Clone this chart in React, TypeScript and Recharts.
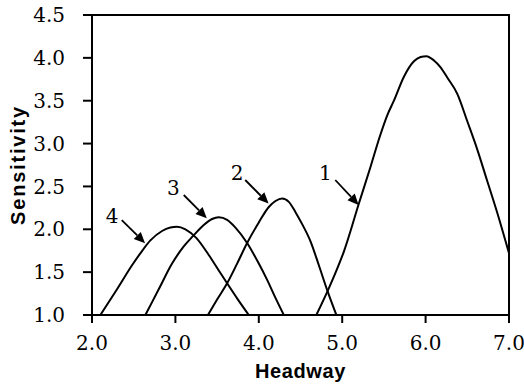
import React from 'react';
import { LineChart, Line, XAxis, YAxis, ReferenceArea, ReferenceLine, ReferenceDot } from 'recharts';

const xTicks = [2, 3, 4, 5, 6, 7];
const yTicks = [1, 1.5, 2, 2.5, 3, 3.5, 4, 4.5];

const curve1X = [4.69, 4.83, 4.94, 5.02, 5.2, 5.34, 5.45, 5.54, 5.62, 5.74, 5.86, 5.94, 6.01, 6.1, 6.18, 6.26, 6.38, 6.5, 6.62, 6.74, 6.86, 7.0];
const curve1Y = [1.0, 1.29, 1.54, 1.74, 2.3, 2.73, 3.08, 3.33, 3.5, 3.78, 3.96, 4.01, 4.02, 3.97, 3.89, 3.77, 3.58, 3.26, 2.93, 2.56, 2.19, 1.72];

const curve2X = [3.39, 3.5, 3.62, 3.74, 3.86, 4.0, 4.12, 4.2, 4.28, 4.36, 4.44, 4.52, 4.62, 4.72, 4.82, 4.93];
const curve2Y = [1.0, 1.18, 1.37, 1.6, 1.84, 2.08, 2.26, 2.33, 2.36, 2.32, 2.2, 2.06, 1.86, 1.58, 1.29, 1.0];

const curve3X = [2.64, 2.8, 2.96, 3.1, 3.21, 3.34, 3.44, 3.52, 3.62, 3.72, 3.86, 4.0, 4.1, 4.2, 4.3];
const curve3Y = [1.0, 1.3, 1.6, 1.8, 1.92, 2.05, 2.12, 2.14, 2.11, 2.02, 1.84, 1.6, 1.41, 1.2, 1.0];

const curve4X = [2.1, 2.3, 2.48, 2.58, 2.7, 2.84, 2.94, 3.02, 3.12, 3.25, 3.4, 3.52, 3.62, 3.75, 3.88];
const curve4Y = [1.0, 1.3, 1.58, 1.72, 1.87, 1.98, 2.02, 2.03, 2.0, 1.9, 1.7, 1.52, 1.37, 1.18, 1.0];

const labelNames = ['1', '2', '3', '4'];
const labelX = [4.797, 3.74, 2.976, 2.24];
const labelY = [2.653, 2.653, 2.478, 2.16];
const tailX = [4.917, 3.837, 3.1, 2.357];
const tailY = [2.575, 2.575, 2.4, 2.108];
const tipX = [5.197, 4.117, 3.376, 2.636];
const tipY = [2.284, 2.3, 2.128, 1.837];

const toData = (xs: number[], ys: number[]) => xs.map((x, i) => ({ x, y: ys[i] }));

const curves = [
  toData(curve1X, curve1Y),
  toData(curve2X, curve2Y),
  toData(curve3X, curve3Y),
  toData(curve4X, curve4Y),
];

const serif = 'DejaVu Serif';
const sans = 'Liberation Sans';

const ArrowShape = (props: any) => {
  const { x1, y1, x2, y2 } = props;
  const dx = x2 - x1;
  const dy = y2 - y1;
  const len = Math.sqrt(dx * dx + dy * dy) || 1;
  const ux = dx / len;
  const uy = dy / len;
  const headLen = 11;
  const headW = 5;
  const bx = x2 - ux * headLen;
  const by = y2 - uy * headLen;
  const pts = `${x2},${y2} ${bx - uy * headW},${by + ux * headW} ${bx + uy * headW},${by - ux * headW}`;
  return (
    <g>
      <line x1={x1} y1={y1} x2={bx} y2={by} stroke="#000" strokeWidth={1.8} />
      <polygon points={pts} fill="#000" />
    </g>
  );
};

const LabelShape = (name: string) => (props: any) => (
  <text
    x={props.cx}
    y={props.cy}
    textAnchor="middle"
    dominantBaseline="central"
    fontFamily={serif}
    fontSize={20}
    fill="#000"
  >
    {name}
  </text>
);

export default function App() {
  return (
    <div style={{ position: 'absolute', left: 0, top: 0, background: '#fff' }}>
      <LineChart width={524} height={390} margin={{ top: 15, right: 15, bottom: 0, left: 0 }}>
        <XAxis
          dataKey="x"
          type="number"
          domain={[2, 7]}
          ticks={xTicks}
          allowDataOverflow
          tickFormatter={(v: number) => v.toFixed(1)}
          height={75}
          tickSize={8}
          tickMargin={13}
          stroke="#000"
          strokeWidth={2}
          tickLine={{ stroke: '#000', strokeWidth: 2 }}
          tick={{ fill: '#000', fontFamily: serif, fontSize: 20 }}
          label={{
            value: 'Headway',
            position: 'insideBottom',
            offset: 12,
            style: { fontFamily: sans, fontWeight: 'bold', fontSize: 20, fill: '#000', letterSpacing: 0.6 },
          }}
        />
        <YAxis
          type="number"
          domain={[1, 4.5]}
          ticks={yTicks}
          allowDataOverflow
          tickFormatter={(v: number) => v.toFixed(1)}
          width={92}
          tickSize={9}
          tickMargin={18}
          stroke="#000"
          strokeWidth={2}
          tickLine={{ stroke: '#000', strokeWidth: 2 }}
          tick={{ fill: '#000', fontFamily: serif, fontSize: 20 }}
          label={{
            value: 'Sensitivity',
            angle: -90,
            position: 'insideLeft',
            offset: 18,
            style: { textAnchor: 'middle', fontFamily: sans, fontWeight: 'bold', fontSize: 20, fill: '#000', letterSpacing: 1.8 },
          }}
        />
        <ReferenceArea x1={2} x2={7} y1={1} y2={4.5} fill="none" stroke="#000" strokeWidth={2} fillOpacity={0} />
        {curves.map((d, i) => (
          <Line
            key={i}
            data={d}
            dataKey="y"
            type="monotone"
            stroke="#000"
            strokeWidth={2}
            dot={false}
            activeDot={false}
            isAnimationActive={false}
          />
        ))}
        {labelNames.map((n, i) => (
          <ReferenceLine
            key={'a' + i}
            segment={[
              { x: tailX[i], y: tailY[i] },
              { x: tipX[i], y: tipY[i] },
            ]}
            shape={ArrowShape}
          />
        ))}
        {labelNames.map((n, i) => (
          <ReferenceDot key={'l' + i} x={labelX[i]} y={labelY[i]} r={0} shape={LabelShape(n)} />
        ))}
      </LineChart>
    </div>
  );
}
